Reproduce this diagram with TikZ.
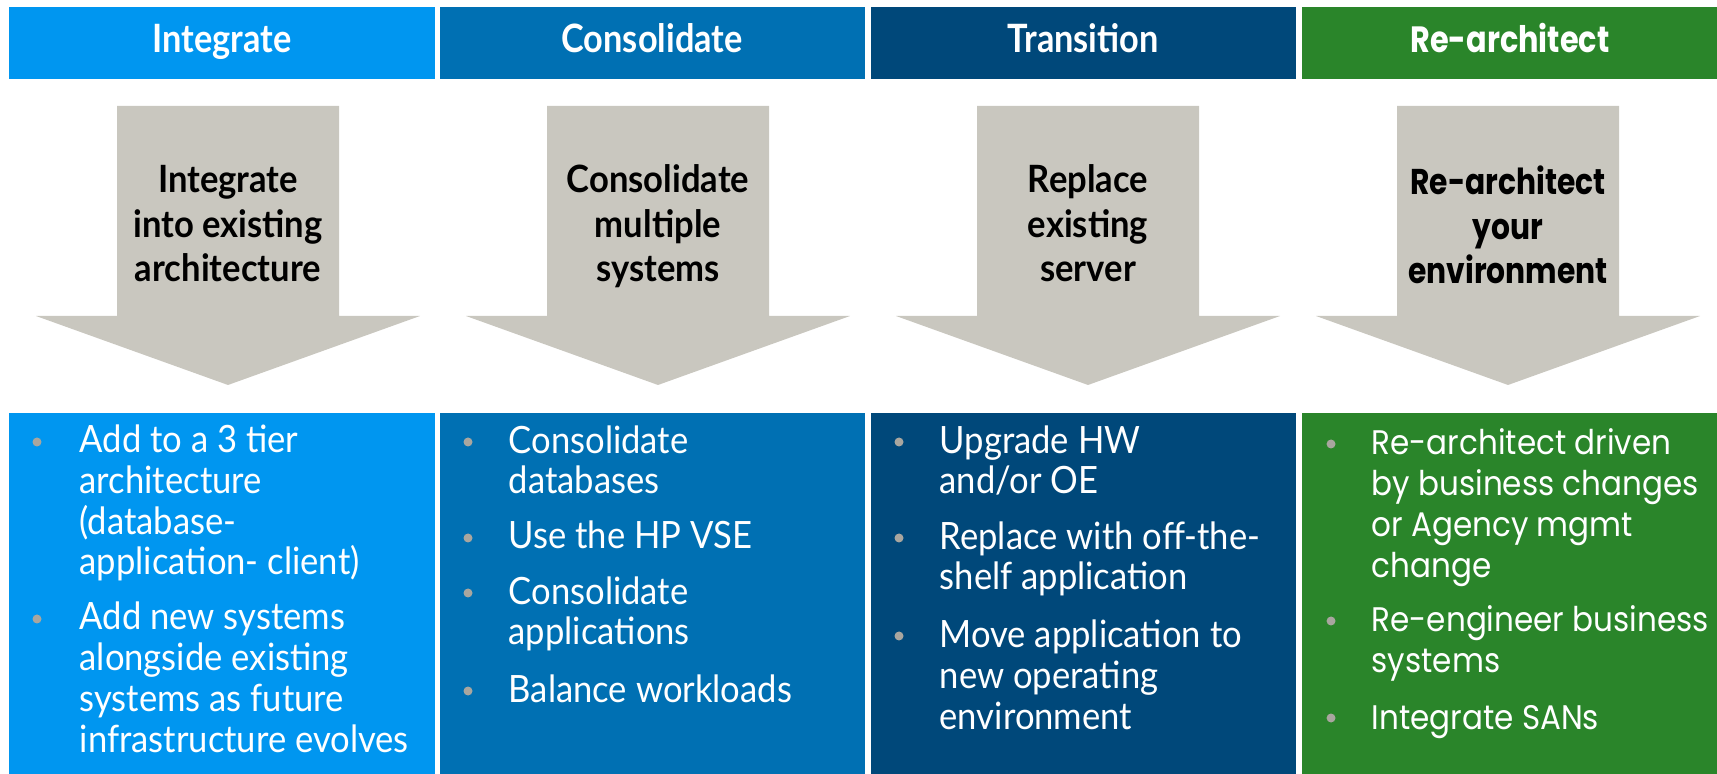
\documentclass[tikz,border=0pt]{standalone}
\usepackage{fontspec}
\usepackage{tikz}
\setmainfont{Lato}
\newfontfamily\headfont[FakeStretch=0.88]{Lato}
\newfontfamily\bodyfont[FakeStretch=0.92]{Lato}
\newfontfamily\widefont[FakeStretch=0.83]{Poppins}
\newfontfamily\widebody[FakeStretch=0.91]{Poppins}

\definecolor{intblue}{HTML}{0096F0}
\definecolor{conblue}{HTML}{0070B3}
\definecolor{tranavy}{HTML}{00487A}
\definecolor{reagreen}{HTML}{2A852A}
\definecolor{arrowgray}{HTML}{C9C7BF}
\definecolor{dotgray}{HTML}{A9A69F}

\tikzset{
  headtxt/.style={anchor=base, inner sep=0, text=white, font=\headfont\bfseries\fontsize{11.1}{13.3}\selectfont},
  arrowtxt/.style={anchor=base, inner sep=0, align=center, font=\bodyfont\bfseries\fontsize{10.7}{12.8}\selectfont},
  itemtxt/.style={anchor=base west, inner sep=0, align=left, text=white, font=\bodyfont\fontsize{10.7}{11.6}\selectfont},
  widetxt/.style={font=\widebody\fontsize{9.7}{11.7}\selectfont},
  dot/.style={fill=dotgray}
}

\begin{document}
\begin{tikzpicture}[x=0.1mm, y=-0.1mm]
  \useasboundingbox (0,0) rectangle (1717,774);

  % header bars
  \fill[intblue] (9,7) rectangle (435,79);
  \fill[conblue] (440,7) rectangle (865,79);
  \fill[tranavy] (871,7) rectangle (1296,79);
  \fill[reagreen] (1302,7) rectangle (1717,79);
  \node[headtxt] (hint) at (222,53) {Integrate};
  \node[headtxt] (hcon) at (652,53) {Consolidate};
  \node[headtxt] (htra) at (1083,53) {Transition};
  \node[headtxt, font=\widefont\bfseries\fontsize{10.4}{12.5}\selectfont] (hrea) at (1510,53) {Re-architect};

  % big arrows
  \foreach \cx in {228,658,1088,1508}
    \fill[arrowgray] (\cx-111,106) -- (\cx+111,106) -- (\cx+111,316) -- (\cx+192,316)
      -- (\cx,385) -- (\cx-192,316) -- (\cx-111,316) -- cycle;
  % multi-line nodes sit on their last baseline
  \node[arrowtxt] (aint) at (228,282) {Integrate\\into existing\\architecture};
  \node[arrowtxt] (acon) at (658,282) {Consolidate\\multiple\\systems};
  \node[arrowtxt] (atra) at (1088,282) {Replace\\existing\\server};
  \node[arrowtxt, font=\widefont\bfseries\fontsize{10.2}{12.8}\selectfont] (area) at (1508,284) {Re-architect\\your\\environment};

  % lower boxes
  \fill[intblue] (9,413) rectangle (435,774);
  \fill[conblue] (440,413) rectangle (865,774);
  \fill[tranavy] (871,413) rectangle (1296,774);
  \fill[reagreen] (1302,413) rectangle (1717,774);

  \fill[dot] (37,442) circle[radius=0.45mm];
  \fill[dot] (37,619) circle[radius=0.45mm];
  \node[itemtxt] (int1) at (79,575) {Add to a 3 tier\\architecture\\(database-\\application- client)};
  \node[itemtxt] (int2) at (79,752) {Add new systems\\alongside existing\\systems as future\\infrastructure evolves};

  \fill[dot] (468,442) circle[radius=0.45mm];
  \fill[dot] (468,538) circle[radius=0.45mm];
  \fill[dot] (468,593) circle[radius=0.45mm];
  \fill[dot] (468,691) circle[radius=0.45mm];
  \node[itemtxt] (con1) at (508,494) {Consolidate\\databases};
  \node[itemtxt] (con2) at (508,549) {Use the HP VSE};
  \node[itemtxt] (con3) at (508,645) {Consolidate\\applications};
  \node[itemtxt] (con4) at (508,702) {Balance workloads};

  \fill[dot] (899,442) circle[radius=0.45mm];
  \fill[dot] (899,538) circle[radius=0.45mm];
  \fill[dot] (899,636) circle[radius=0.45mm];
  \node[itemtxt] (tra1) at (939,494) {Upgrade HW\\and/or OE};
  \node[itemtxt] (tra2) at (939,590) {Replace with off-the-\\shelf application};
  \node[itemtxt] (tra3) at (939,729) {Move application to\\new operating\\environment};

  \fill[dot] (1331,444) circle[radius=0.45mm];
  \fill[dot] (1331,621) circle[radius=0.45mm];
  \fill[dot] (1331,718) circle[radius=0.45mm];
  \node[itemtxt, widetxt] (rea1) at (1371,578) {Re-architect driven\\by business changes\\or Agency mgmt\\change};
  \node[itemtxt, widetxt] (rea2) at (1371,673) {Re-engineer business\\systems};
  \node[itemtxt, widetxt] (rea3) at (1371,729) {Integrate SANs};
\end{tikzpicture}
\end{document}
